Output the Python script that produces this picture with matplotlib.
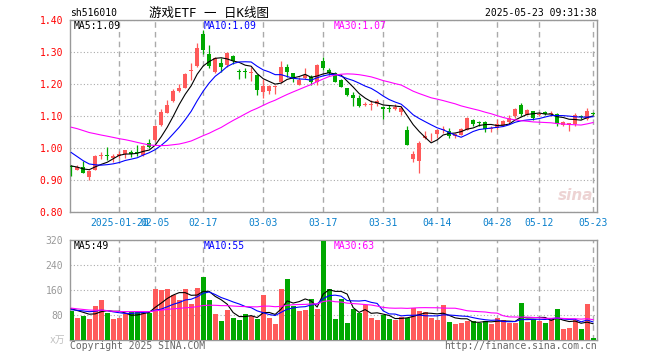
import numpy as np
import pandas as pd
import matplotlib
matplotlib.use('Agg')
from matplotlib import pyplot as plt

plt.rcParams['font.family'] = ['DejaVu Sans Mono', 'Noto Sans CJK SC']

# daily bars 2025-01-08 .. 2025-05-23, 88 trading days
open_ = [0.944, 0.932, 0.941, 0.908, 0.932, 0.974, 0.978, 0.970, 0.976, 0.981,
         0.987, 0.988, 0.978, 1.016, 1.026, 1.072, 1.110, 1.146, 1.177, 1.188,
         1.240, 1.256, 1.356, 1.293, 1.238, 1.265, 1.259, 1.288, 1.240, 1.240,
         1.234, 1.228, 1.175, 1.177, 1.191, 1.207, 1.254, 1.233, 1.196, 1.220,
         1.223, 1.207, 1.272, 1.243, 1.235, 1.214, 1.186, 1.167, 1.157, 1.134,
         1.134, 1.139, 1.128, 1.125, 1.121, 1.112, 1.055, 0.965, 0.960, 1.032,
         1.036, 1.044, 1.055, 1.053, 1.036, 1.042, 1.057, 1.088, 1.080, 1.081,
         1.060, 1.062, 1.070, 1.081, 1.100, 1.133, 1.104, 1.117, 1.104, 1.113,
         1.106, 1.107, 1.072, 1.072, 1.076, 1.100, 1.091, 1.110]
high = [0.947, 0.946, 0.960, 0.930, 0.978, 0.988, 1.002, 0.981, 0.991, 0.995,
        0.994, 1.010, 1.008, 1.028, 1.073, 1.121, 1.151, 1.183, 1.201, 1.235,
        1.267, 1.328, 1.369, 1.322, 1.283, 1.280, 1.301, 1.292, 1.247, 1.251,
        1.254, 1.230, 1.217, 1.198, 1.198, 1.272, 1.261, 1.233, 1.222, 1.249,
        1.228, 1.261, 1.283, 1.249, 1.238, 1.217, 1.188, 1.175, 1.165, 1.144,
        1.149, 1.154, 1.131, 1.135, 1.138, 1.131, 1.068, 0.991, 1.023, 1.052,
        1.046, 1.060, 1.068, 1.063, 1.048, 1.062, 1.096, 1.091, 1.083, 1.083,
        1.070, 1.091, 1.089, 1.102, 1.126, 1.141, 1.123, 1.117, 1.113, 1.117,
        1.115, 1.110, 1.085, 1.078, 1.108, 1.104, 1.126, 1.112]
low = [0.912, 0.930, 0.921, 0.900, 0.930, 0.965, 0.963, 0.957, 0.968, 0.968,
       0.973, 0.976, 0.975, 1.000, 1.022, 1.070, 1.108, 1.144, 1.175, 1.186,
       1.214, 1.253, 1.293, 1.249, 1.233, 1.238, 1.254, 1.262, 1.217, 1.220,
       1.209, 1.165, 1.157, 1.168, 1.170, 1.202, 1.223, 1.205, 1.196, 1.217,
       1.196, 1.196, 1.243, 1.228, 1.205, 1.191, 1.163, 1.131, 1.128, 1.130,
       1.118, 1.131, 1.091, 1.114, 1.118, 1.102, 1.009, 0.955, 0.921, 1.027,
       1.023, 1.030, 1.046, 1.030, 1.032, 1.040, 1.055, 1.068, 1.070, 1.050,
       1.049, 1.058, 1.068, 1.076, 1.094, 1.099, 1.102, 1.089, 1.100, 1.104,
       1.100, 1.070, 1.070, 1.053, 1.070, 1.092, 1.086, 1.104]
close = [0.940, 0.942, 0.921, 0.928, 0.974, 0.979, 0.975, 0.976, 0.981, 0.994,
         0.981, 0.985, 1.006, 1.002, 1.070, 1.112, 1.133, 1.177, 1.187, 1.230,
         1.245, 1.314, 1.305, 1.257, 1.280, 1.254, 1.296, 1.272, 1.236, 1.236,
         1.238, 1.180, 1.193, 1.193, 1.194, 1.254, 1.238, 1.217, 1.214, 1.228,
         1.207, 1.259, 1.249, 1.233, 1.207, 1.191, 1.165, 1.157, 1.131, 1.136,
         1.136, 1.148, 1.121, 1.123, 1.128, 1.125, 1.009, 0.981, 1.016, 1.036,
         1.038, 1.055, 1.058, 1.039, 1.044, 1.060, 1.094, 1.076, 1.078, 1.058,
         1.062, 1.076, 1.083, 1.094, 1.123, 1.107, 1.118, 1.093, 1.106, 1.106,
         1.108, 1.076, 1.081, 1.078, 1.102, 1.098, 1.116, 1.107]
volume = [92, 72, 76, 68, 110, 127, 88, 66, 69, 83,
          91, 91, 88, 88, 164, 159, 164, 144, 127, 164,
          116, 168, 203, 127, 84, 62, 97, 69, 63, 84,
          77, 66, 145, 69, 52, 164, 196, 110, 92, 95,
          132, 98, 316, 164, 68, 132, 55, 100, 87, 113,
          72, 63, 79, 66, 63, 74, 72, 102, 94, 90,
          69, 63, 113, 59, 50, 55, 62, 60, 56, 62,
          50, 72, 65, 53, 56, 119, 59, 68, 60, 55,
          71, 98, 34, 37, 63, 36, 116, 8]

# days before the window, only used to start the moving averages
prev_close = [1.08, 1.10, 1.11, 1.09, 1.10, 1.08, 1.09, 1.10, 1.09,
              1.10, 1.12, 1.13, 1.12, 1.11, 1.13, 1.12, 1.11, 1.12, 1.10, 1.09,
              1.07, 1.05, 1.03, 1.00, 0.99,
              0.96, 0.95, 0.94, 0.93]
prev_volume = [140, 135, 125, 130, 120, 133, 125,
               95, 88, 92, 85, 90, 96, 87, 91, 93, 89, 92, 94, 90,
               90, 98, 92, 96, 94,
               100, 105, 98, 105]

tick_idx = [8, 14, 22, 32, 42, 52, 61, 71, 78, 87]
tick_lab = ['2025-01-20', '02-05', '02-17', '03-03', '03-17',
            '03-31', '04-14', '04-28', '05-12', '05-23']

RED = '#ff5a5a'
GREEN = '#00a800'
GRID = '#aaaaaa'
FRAME = '#999999'

o = np.array(open_)
c = np.array(close)
n = len(c)
x = np.arange(n)
cols = np.where(c >= o, RED, GREEN)


def moving(prev, cur, w):
    s = pd.Series(prev + cur).rolling(w).mean()
    return s.iloc[len(prev):].values


fig = plt.figure(figsize=(6.6, 3.6), dpi=100)
W, H = 660, 360
ax = fig.add_axes([70 / W, 1 - 212 / H, 527 / W, 192 / H])
axv = fig.add_axes([70 / W, 1 - 340 / H, 527 / W, 100 / H])

# candles
ax.vlines(x, low, high, colors=cols, lw=0.9, zorder=3)
ax.bar(x, np.maximum(np.abs(c - o), 0.003), bottom=np.minimum(o, c),
       width=0.68, color=cols, linewidth=0, zorder=3)
ax.plot(x, moving(prev_close, close, 5), color='black', lw=0.8, zorder=4)
ax.plot(x, moving(prev_close, close, 10), color='blue', lw=0.8, zorder=4)
ax.plot(x, moving(prev_close, close, 30), color='magenta', lw=0.8, zorder=4)

# volume
axv.bar(x, volume, width=0.8, color=cols, linewidth=0, zorder=3)
axv.plot(x, moving(prev_volume, volume, 5), color='black', lw=0.8, zorder=4)
axv.plot(x, moving(prev_volume, volume, 10), color='blue', lw=0.8, zorder=4)
axv.plot(x, moving(prev_volume, volume, 30), color='magenta', lw=0.8, zorder=4)

for a in (ax, axv):
    a.set_xlim(-0.2, 87.65)
    a.set_xticks(tick_idx)
    a.grid(axis='x', color=GRID, lw=1, linestyle=(0, (4, 3)))
    a.grid(axis='y', color=GRID, lw=0.8, linestyle=(0, (1, 2)))
    for s in a.spines.values():
        s.set_color(FRAME)
        s.set_linewidth(1)
    a.tick_params(length=0, labelsize=7)

ax.set_ylim(0.80, 1.40)
ax.set_yticks(np.arange(0.80, 1.41, 0.10))
ax.set_yticklabels(['%.2f' % v for v in np.arange(0.80, 1.41, 0.10)], color='red')
ax.set_xticklabels(tick_lab, color='#0a80cc')
ax.tick_params(axis='y', pad=5)
ax.tick_params(axis='x', pad=4)

axv.set_ylim(0, 320)
axv.set_yticks([80, 160, 240, 320])
axv.set_yticklabels(['80', '160', '240', '320'], color='#999999')
axv.set_xticklabels([])
axv.tick_params(axis='y', pad=5)

fs = 7
# header
fig.text(70 / W, 1 - 13 / H, 'sh516010', fontsize=fs, va='center', ha='left')
fig.text(209 / W, 1 - 13 / H, '游戏ETF 一 日K线图', fontsize=9, va='center', ha='center')
fig.text(597 / W, 1 - 13 / H, '2025-05-23 09:31:38', fontsize=fs, va='center', ha='right')

# MA labels
ma_lab = [('MA5:1.09', 'MA5:49', 'black', 74),
          ('MA10:1.09', 'MA10:55', 'blue', 204),
          ('MA30:1.07', 'MA30:63', 'magenta', 334)]
for t1, t2, col, px in ma_lab:
    fig.text(px / W, 1 - 26 / H, t1, color=col, fontsize=fs, va='center')
    fig.text(px / W, 1 - 246 / H, t2, color=col, fontsize=fs, va='center')

fig.text(65 / W, 1 - 340 / H, 'x万', color='#c0c0c0', fontsize=fs, va='center', ha='right')
fig.text(70 / W, 1 - 346 / H, 'Copyright 2025 SINA.COM', color='#666666', fontsize=fs, va='center')
fig.text(597 / W, 1 - 346 / H, 'http://finance.sina.com.cn', color='#666666', fontsize=fs,
         va='center', ha='right')
fig.text(593 / W, 1 - 195 / H, 'sina', color='#e9c9c9', fontsize=11, fontweight='bold',
         fontstyle='italic', family='DejaVu Sans', va='center', ha='right', alpha=0.8)

fig.savefig('out.png', dpi=100)
